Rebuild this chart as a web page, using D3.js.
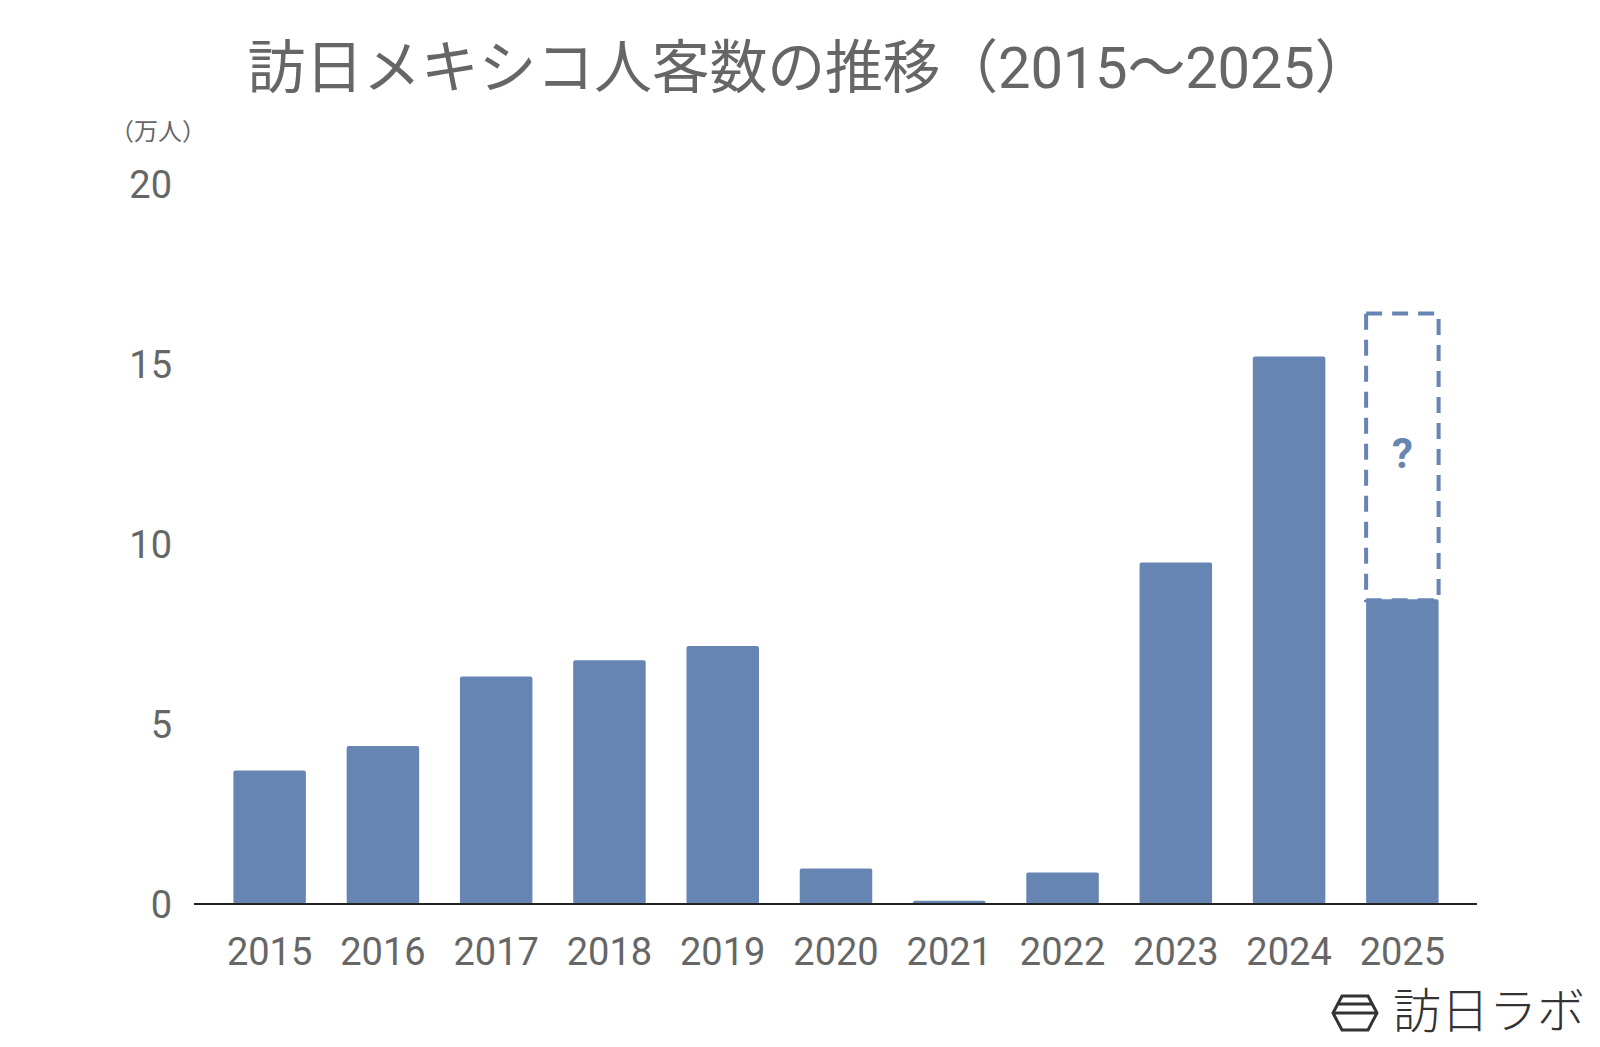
<!DOCTYPE html>
<html><head><meta charset="utf-8">
<script src="https://cdn.jsdelivr.net/npm/d3@7"></script>
<style>body{margin:0;background:#fff}text{font-family:Roboto,"Noto Sans CJK JP",sans-serif}</style>
</head><body><div id="chart"></div>
<script>
// data (万人)
var years = ["2015","2016","2017","2018","2019","2020","2021","2022","2023","2024","2025"];
var visitors = [3.68, 4.36, 6.29, 6.74, 7.14, 0.96, 0.06, 0.85, 9.46, 15.18, 8.44];
var forecast2025 = 16.4;
var yTicks = [0, 5, 10, 15, 20];

var svg = d3.select("#chart").append("svg").attr("width", 1600).attr("height", 1047);
var color = "#6685b3", grey = "#666";

var x = d3.scaleBand().domain(years).range([213, 1459]).paddingInner(0.36).paddingOuter(0.18);
var y = d3.scaleLinear().domain([0, 20]).range([904, 184]);

svg.append("text").attr("x", 810).attr("y", 88).attr("text-anchor", "middle")
  .attr("font-size", 58).attr("fill", grey).attr("textLength", 1125).text("訪日メキシコ人客数の推移（2015〜2025）");
svg.append("text").attr("x", 158).attr("y", 140).attr("text-anchor", "middle")
  .attr("font-size", 24).attr("fill", grey).text("（万人）");

svg.selectAll(".yt").data(yTicks).enter().append("text")
  .attr("x", 172).attr("y", d => y(d) + 14).attr("text-anchor", "end")
  .attr("font-size", 38).attr("fill", grey).text(d => d);

// forecast box
var bx = x("2025");
svg.append("rect").attr("x", bx).attr("y", y(forecast2025)).attr("width", x.bandwidth())
  .attr("height", y(visitors[10]) - y(forecast2025)).attr("fill", "none")
  .attr("stroke", color).attr("stroke-width", 4).attr("stroke-dasharray", "16,10");
svg.append("text").attr("x", bx + x.bandwidth() / 2).attr("y", y(12.5) + 14).attr("text-anchor", "middle")
  .attr("font-size", 42).attr("font-weight", "bold").attr("fill", color).text("?");

svg.selectAll(".bar").data(years).enter().append("rect")
  .attr("x", d => x(d)).attr("width", x.bandwidth())
  .attr("y", (d, i) => y(visitors[i]) - 1).attr("height", (d, i) => y(0) - y(visitors[i]) + 1)
  .attr("rx", 2).attr("fill", color);

svg.append("line").attr("x1", 194).attr("x2", 1477).attr("y1", y(0)).attr("y2", y(0))
  .attr("stroke", "#222").attr("stroke-width", 2);

svg.selectAll(".xt").data(years).enter().append("text")
  .attr("x", d => x(d) + x.bandwidth() / 2).attr("y", 965).attr("text-anchor", "middle")
  .attr("font-size", 38).attr("fill", grey).text(d => d);

// logo
var lg = svg.append("g").attr("transform", "translate(1332,994)").attr("fill", "none").attr("stroke", "#333").attr("stroke-width", 3);
lg.append("path").attr("d", "M10,2 L36,2 L45,19 L36,36 L10,36 L1,19 Z");
lg.append("line").attr("x1", 6).attr("x2", 40).attr("y1", 10).attr("y2", 10);
lg.append("line").attr("x1", 1).attr("x2", 45).attr("y1", 19).attr("y2", 19);
svg.append("text").attr("x", 1393).attr("y", 1028).attr("font-size", 48).attr("font-weight", 300)
  .attr("font-family", "Noto Sans CJK JP").attr("fill", "#333").text("訪日ラボ");
</script></body></html>
